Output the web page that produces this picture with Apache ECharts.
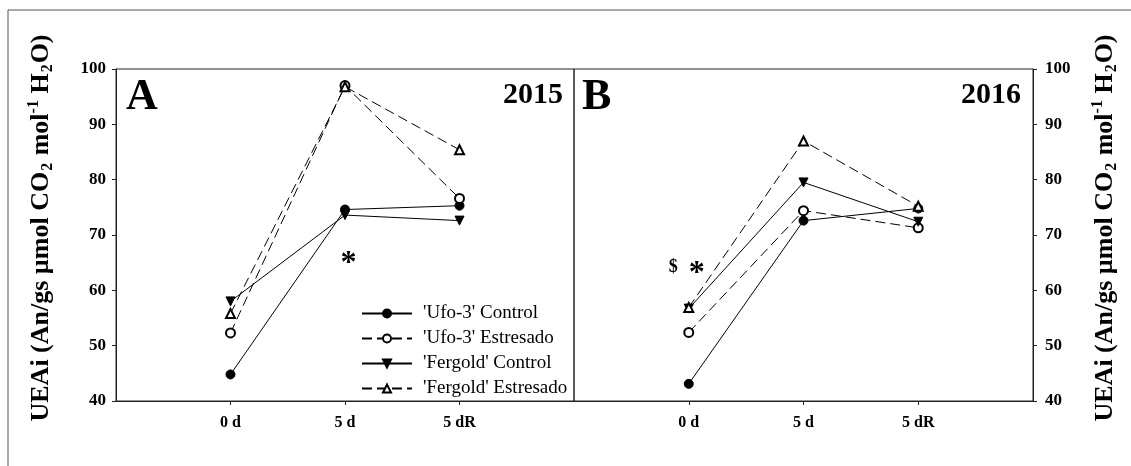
<!DOCTYPE html>
<html><head><meta charset="utf-8">
<script src="https://cdn.jsdelivr.net/npm/echarts@6/dist/echarts.min.js"></script>
<style>html,body{margin:0;padding:0;background:#fff}#c{width:1131px;height:466px}</style>
</head><body><div id="c"></div>
<script>
// ---- data ----
const tickLabels = ['0 d', '5 d', '5 dR'];
const seriesNames = ["'Ufo-3' Control", "'Ufo-3' Estresado", "'Fergold' Control", "'Fergold' Estresado"];
const ufoControl2015 = [44.8, 74.6, 75.3];
const ufoStress2015  = [52.3, 97.0, 76.6];
const ferControl2015 = [58.0, 73.6, 72.6];
const ferStress2015  = [55.8, 96.8, 85.4];
const ufoControl2016 = [43.1, 72.6, 74.8];
const ufoStress2016  = [52.4, 74.4, 71.3];
const ferControl2016 = [56.7, 79.5, 72.4];
const ferStress2016  = [56.9, 87.0, 75.2];
const yMin = 40, yMax = 100, yStep = 10;
const panelLabels = ['A', 'B'];
const yearLabels = ['2015', '2016'];
// annotations: [panel, x (category index units), y value, text]
const annotations = [
  [0, 2.03, 64.8, '*'],
  [1, 0.865, 64.2, '$'],
  [1, 1.07, 63.0, '*']
];

const FONT = '"Liberation Serif", "Times New Roman", serif';
const catData = [' ', ...tickLabels, '  '];
const toPairs = vals => vals.map((v, i) => [i + 1, v]);

const styles = [
  { symbol: 'circle', dash: 'solid', rot: 0 },
  { symbol: 'emptyCircle', dash: [10, 5], rot: 0 },
  { symbol: 'triangle', dash: 'solid', rot: 180 },
  { symbol: 'emptyTriangle', dash: [10, 5], rot: 0 }
];
const panelData = [
  [ufoControl2015, ufoStress2015, ferControl2015, ferStress2015],
  [ufoControl2016, ufoStress2016, ferControl2016, ferStress2016]
];

const series = [];
panelData.forEach((arrs, p) => {
  arrs.forEach((vals, k) => {
    series.push({
      type: 'line', name: seriesNames[k],
      xAxisIndex: p, yAxisIndex: p,
      data: toPairs(vals),
      symbol: styles[k].symbol, symbolSize: 9, symbolRotate: styles[k].rot,
      showAllSymbol: true,
      lineStyle: { color: '#000', width: 1, type: styles[k].dash },
      itemStyle: { color: '#000', borderColor: '#000', borderWidth: 1 },
      emphasis: { disabled: true },
      z: 2 + k,
      animation: false
    });
  });
});

const xAxisBase = gi => ({
  type: 'category', gridIndex: gi, data: catData, boundaryGap: false,
  axisLine: { lineStyle: { color: '#222', width: 1 } },
  axisTick: { show: true, length: 4, inside: false, interval: (idx) => idx >= 1 && idx <= 3, lineStyle: { color: '#222' } },
  axisLabel: { interval: 0, margin: 14, fontFamily: FONT, fontWeight: 'bold', fontSize: 16, color: '#000' },
  splitLine: { show: false }
});
const yAxisBase = (gi, pos) => ({
  type: 'value', gridIndex: gi, position: pos, min: yMin, max: yMax, interval: yStep,
  axisLine: { show: true, lineStyle: { color: '#222', width: 1 } },
  axisTick: { show: true, length: 4, lineStyle: { color: '#222' } },
  axisLabel: { margin: pos === 'left' ? 10 : 12, fontFamily: FONT, fontWeight: 'bold', fontSize: 17, color: '#000' },
  splitLine: { show: false }
});

const titleText = '{b|UEAi (An/gs µmol CO}{s|2}{b| mol}{p|-1}{b| H}{s|2}{b|O)}';
const titleRich = {
  b: { fontFamily: FONT, fontWeight: 'bold', fontSize: 26, color: '#000', lineHeight: 30 },
  s: { fontFamily: FONT, fontWeight: 'bold', fontSize: 16, color: '#000', lineHeight: 16, verticalAlign: 'bottom', padding: [0, 1, 0, 1] },
  p: { fontFamily: FONT, fontWeight: 'bold', fontSize: 16, color: '#000', lineHeight: 16, verticalAlign: 'top' }
};

const chart = echarts.init(document.getElementById('c'), null, { renderer: 'canvas' });
chart.setOption({
  animation: false,
  backgroundColor: '#fff',
  grid: [
    { left: 116, top: 69, width: 458, height: 332, show: true, borderColor: '#222', borderWidth: 1, backgroundColor: 'transparent' },
    { left: 574, top: 69, width: 459, height: 332, show: true, borderColor: '#222', borderWidth: 1, backgroundColor: 'transparent' }
  ],
  xAxis: [xAxisBase(0), xAxisBase(1)],
  yAxis: [yAxisBase(0, 'left'), yAxisBase(1, 'right')],
  legend: {
    data: seriesNames, orient: 'vertical', left: 361, top: 304, padding: 0,
    itemWidth: 50, itemHeight: 10, itemGap: 6,
    selectedMode: false,
    textStyle: { fontFamily: FONT, fontSize: 19, color: '#000', padding: [0, 0, 0, 6] }
  },
  series: series
});

// annotations positioned through the axes (interpolated between category positions)
function toPx(p, xv, yv) {
  const i0 = Math.floor(xv), f = xv - i0;
  const a = chart.convertToPixel({ xAxisIndex: p, yAxisIndex: p }, [i0, yv]);
  const b = chart.convertToPixel({ xAxisIndex: p, yAxisIndex: p }, [i0 + 1, yv]);
  return [a[0] + (b[0] - a[0]) * f, a[1]];
}
const annGraphics = annotations.map(([p, xv, yv, t]) => {
  const pt = toPx(p, xv, yv);
  return { type: 'text', x: pt[0], y: pt[1], style: { text: t, fontFamily: FONT, fontWeight: 'bold', fontSize: t === '*' ? 32 : 18, fill: '#000', align: 'center', verticalAlign: 'middle' } };
});
const textStyle = (t, size, align) => ({ text: t, fontFamily: FONT, fontWeight: 'bold', fontSize: size, fill: '#000', align: align, verticalAlign: 'top' });
chart.setOption({ graphic: [
  { type: 'rect', shape: { x: 8, y: 10, width: 1200, height: 600 }, style: { fill: 'none', stroke: '#555', lineWidth: 1 }, silent: true },
  { type: 'text', x: 41, y: 228, rotation: Math.PI / 2, style: { text: titleText, rich: titleRich, align: 'center', verticalAlign: 'middle' } },
  { type: 'text', x: 1105, y: 228, rotation: Math.PI / 2, style: { text: titleText, rich: titleRich, align: 'center', verticalAlign: 'middle' } },
  { type: 'text', x: 126, y: 76, style: textStyle(panelLabels[0], 44, 'left') },
  { type: 'text', x: 582, y: 76, style: textStyle(panelLabels[1], 44, 'left') },
  { type: 'text', x: 563, y: 80, style: textStyle(yearLabels[0], 30, 'right') },
  { type: 'text', x: 1021, y: 80, style: textStyle(yearLabels[1], 30, 'right') },
  ...annGraphics
] });
</script>
</body></html>
